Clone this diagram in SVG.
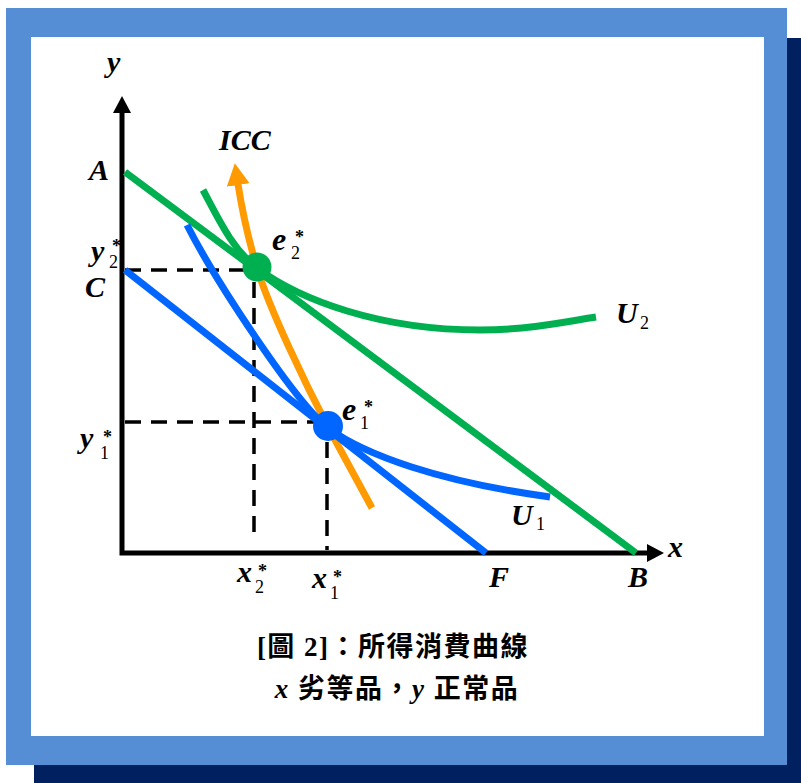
<svg xmlns="http://www.w3.org/2000/svg" width="801" height="783" viewBox="0 0 801 783">
<defs>
<style>
.lbl{font-family:"Liberation Serif","Times New Roman",serif;font-weight:bold;font-style:italic;font-size:30px;fill:#000}
.sub{font-weight:normal;font-style:normal;font-size:18px}
.star{font-weight:bold;font-style:normal;font-size:18px}
.big{font-size:32px}
.cap{font-family:"Liberation Serif","Noto Sans CJK TC",serif;font-weight:bold;font-size:27px;fill:#000;letter-spacing:1.5px}
.dash{stroke:#000;stroke-width:3.5;stroke-dasharray:16 10;fill:none}
.green{stroke:#00B050;stroke-width:7;fill:none}
.blue{stroke:#0066FF;stroke-width:7;fill:none}
.orange{stroke:#FF9A00;stroke-width:7;fill:none}
</style>
<marker id="arrK" markerUnits="userSpaceOnUse" markerWidth="18" markerHeight="18" viewBox="0 0 17 18" refX="1" refY="9" orient="auto-start-reverse"><path d="M0,0 L17,9 L0,18 Z" fill="#000"/></marker>
<marker id="arrO" markerUnits="userSpaceOnUse" markerWidth="22" markerHeight="23" viewBox="0 0 22 23" refX="1" refY="11.5" orient="auto"><path d="M0,0 L22,11.5 L0,23 Z" fill="#FF9A00"/></marker>
</defs>
<g id="frame">
<rect x="34" y="38" width="767" height="745" fill="#002060"/>
<rect x="6" y="8" width="781" height="757" fill="#558ED5"/>
<rect x="31" y="37" width="733" height="699" fill="#FFFFFF"/>
</g>
<g id="connectors">
<g id="dashed">
<line class="dash" x1="125" y1="270" x2="245" y2="270"/>
<line class="dash" x1="254" y1="282" x2="254" y2="537"/>
<line class="dash" x1="125" y1="422" x2="315" y2="422"/>
<line class="dash" x1="327" y1="442" x2="327" y2="550"/>
</g>
<path id="axes" d="M122,112 L122,553 L648,553" stroke="#000" stroke-width="5" fill="none" marker-start="url(#arrK)" marker-end="url(#arrK)"/>
<path id="icc" class="orange" d="M372,508 L328,427 C305,383 270,310 257,268 C248,238 242,210 238,184" marker-end="url(#arrO)"/>
<line id="budgetAB" class="green" x1="125" y1="172" x2="636" y2="553"/>
<path id="U2" class="green" d="M203,190 C218,218 232,249 257,268 C300,300 380,330 480,330 C530,330 570,321 596,317"/>
<line id="budgetCF" class="blue" x1="125" y1="270" x2="486" y2="553"/>
<path id="U1" class="blue" d="M187,225 C215,280 295,402 328,428 C365,455 440,482 550,497"/>
</g>
<g id="e2"><circle cx="257" cy="267" r="14.5" fill="#00B050"/></g>
<g id="e1"><circle cx="328" cy="426" r="15" fill="#0066FF"/></g>
<g id="labels">
<text class="lbl" x="107" y="72">y</text>
<text class="lbl" x="668" y="557">x</text>
<text class="lbl" x="89" y="180">A</text>
<text class="lbl" x="85" y="297">C</text>
<text class="lbl" x="489" y="587">F</text>
<text class="lbl" x="628" y="587">B</text>
<text class="lbl" x="219" y="150">ICC</text>
<text class="lbl"><tspan x="91" y="261">y</tspan><tspan class="sub" x="109" y="268">2</tspan><tspan class="star" x="112" y="252">*</tspan></text>
<text class="lbl"><tspan x="80" y="448">y</tspan><tspan class="sub" x="100" y="459">1</tspan><tspan class="star" x="103" y="443">*</tspan></text>
<text class="lbl"><tspan x="237" y="582">x</tspan><tspan class="sub" x="255" y="593">2</tspan><tspan class="star" x="258" y="577">*</tspan></text>
<text class="lbl"><tspan x="312" y="588">x</tspan><tspan class="sub" x="330" y="599">1</tspan><tspan class="star" x="333" y="583">*</tspan></text>
<text class="lbl"><tspan class="big" x="272" y="250">e</tspan><tspan class="sub" x="291" y="259">2</tspan><tspan class="star" x="295" y="243">*</tspan></text>
<text class="lbl"><tspan class="big" x="342" y="420">e</tspan><tspan class="sub" x="360" y="429">1</tspan><tspan class="star" x="364" y="413">*</tspan></text>
<text class="lbl"><tspan x="616" y="323">U</tspan><tspan class="sub" x="640" y="329">2</tspan></text>
<text class="lbl"><tspan x="511" y="525">U</tspan><tspan class="sub" x="536" y="530">1</tspan></text>
</g>
<g id="caption">
<text class="cap" x="393" y="656" text-anchor="middle">[圖 2]：所得消費曲線</text>
<text class="cap" x="397" y="698" text-anchor="middle"><tspan font-style="italic">x</tspan> 劣等品，<tspan font-style="italic">y</tspan> 正常品</text>
</g>
</svg>
